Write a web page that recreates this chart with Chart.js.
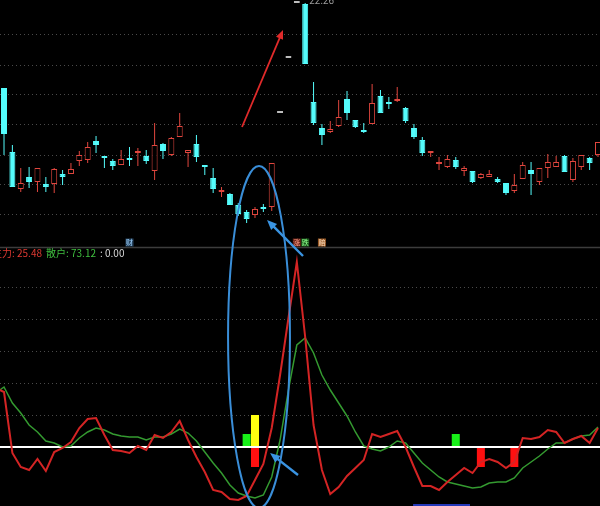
<!DOCTYPE html>
<html>
<head>
<meta charset="utf-8">
<script src="https://cdn.jsdelivr.net/npm/chart.js@4.4.1/dist/chart.umd.min.js"></script>
<style>
  html, body { margin: 0; padding: 0; background: #000; }
  canvas { display: block; }
</style>
</head>
<body>
<canvas id="kline" width="600" height="506"></canvas>
<script>
// daily candles, one per slot (slot 0 = first visible day)
const openPrices = [
  20.56, 19.28, 18.54, 18.78, 18.68, 18.64, 18.64, 18.84, 18.84, 19.10,
  19.12, 19.50, 19.18, 19.10, 19.02, 19.14, 19.26, 19.20, 18.90, 19.44,
  19.22, 19.58, 19.26, 19.44, 19.00, 18.76, 18.48, 18.44, 18.22, 18.08,
  18.02, 18.18, 18.18, 20.06, 21.16, 22.26, 22.24, 20.28, 19.76, 19.68,
  19.80, 20.34, 19.92, 19.70, 19.84, 20.40, 20.26, 20.30, 20.16, 19.76,
  19.52, 19.26, 19.04, 18.98, 19.12, 18.90, 18.90, 18.76, 18.78, 18.74,
  18.66, 18.50, 18.74, 18.92, 18.68, 18.96, 18.98, 19.20, 18.72, 18.98,
  19.16, 19.22
];
const highPrices = [
  20.56, 19.42, 18.96, 18.98, 18.96, 18.78, 18.96, 18.92, 19.06, 19.30,
  19.48, 19.60, 19.18, 19.14, 19.32, 19.38, 19.36, 19.32, 19.86, 19.46,
  19.58, 20.06, 19.32, 19.62, 19.00, 18.96, 18.58, 18.46, 18.26, 18.12,
  18.18, 18.24, 19.06, 20.06, 21.16, 22.26, 22.26, 20.68, 19.84, 19.90,
  20.32, 20.50, 19.92, 19.86, 20.64, 20.52, 20.38, 20.58, 20.18, 19.84,
  19.58, 19.30, 19.18, 19.22, 19.18, 19.00, 18.90, 18.86, 18.92, 18.78,
  18.66, 18.84, 19.08, 19.08, 18.96, 19.24, 19.20, 19.22, 19.16, 19.22,
  19.18, 19.48
];
const lowPrices = [
  19.22, 18.58, 18.48, 18.56, 18.48, 18.48, 18.46, 18.62, 18.84, 19.00,
  19.06, 19.26, 18.96, 18.92, 19.02, 19.00, 19.00, 19.04, 18.72, 19.14,
  19.20, 19.58, 18.98, 19.08, 18.82, 18.46, 18.38, 18.22, 18.00, 17.86,
  17.96, 18.08, 18.10, 20.06, 21.16, 22.26, 21.04, 19.82, 19.42, 19.66,
  19.78, 19.92, 19.76, 19.66, 19.84, 20.06, 20.14, 20.28, 19.86, 19.54,
  19.20, 19.18, 18.92, 18.96, 18.94, 18.80, 18.66, 18.74, 18.78, 18.66,
  18.42, 18.46, 18.74, 18.42, 18.62, 18.76, 18.98, 18.88, 18.68, 18.92,
  18.92, 19.18
];
const closePrices = [
  19.64, 18.58, 18.66, 18.68, 18.96, 18.58, 18.94, 18.78, 18.94, 19.22,
  19.38, 19.42, 19.16, 19.00, 19.14, 19.12, 19.28, 19.10, 19.42, 19.30,
  19.56, 19.80, 19.32, 19.18, 18.98, 18.54, 18.52, 18.22, 18.04, 17.94,
  18.14, 18.14, 19.06, 20.06, 21.16, 22.26, 21.04, 19.86, 19.62, 19.74,
  19.98, 20.06, 19.78, 19.68, 20.26, 20.06, 20.24, 20.34, 19.90, 19.58,
  19.26, 19.30, 19.08, 19.14, 18.98, 18.96, 18.68, 18.84, 18.84, 18.68,
  18.46, 18.62, 19.02, 18.84, 18.96, 19.08, 19.08, 18.88, 19.10, 19.22,
  19.06, 19.48
];

// indicator lines, first value is the day before slot 0
const mainForce = [
  59, 55, -6, -20, -23, -12, -24, -5, -1, 5,
  19, 28, 29, 12, -3, -4, -6, 1, -3, 12,
  9, 15, 26, 7, -10, -25, -43, -45, -52, -53,
  -49, -33, -17, 19, 72, 129, 185, 110, 22, -23,
  -47, -40, -29, -21, -13, 13, 10, 13, 16, 0,
  -20, -39, -39, -43, -35, -28, -21, -26, -15, -12,
  -15, -21, -15, 9, 8, 10, 17, 15, 4, 8,
  11, 4, 19
];
const retail = [
  54, 60, 44, 34, 22, 15, 6, 4, 0, 1,
  9, 15, 19, 17, 13, 11, 10, 10, 7, 10,
  10, 13, 18, 14, 6, -5, -16, -26, -38, -46,
  -49, -51, -48, -30, 7, 57, 102, 109, 94, 72,
  57, 44, 31, 15, 1, -2, -4, 0, 6, 4,
  -6, -16, -23, -30, -35, -37, -39, -41, -40, -36,
  -35, -35, -31, -21, -15, -9, -2, 4, 4, 8,
  11, 12, 20
];

// signal bars
const greenBarSlots = [29, 54];
const greenBarValues = [13, 13];
const yellowBarSlots = [30];
const yellowBarValues = [32];
const redBarSlots = [30, 57, 61];
const redBarValues = [-20, -20, -20];

// dotted grid levels
const priceGrid = [21.62, 21.02, 20.42, 19.82, 19.22, 18.62, 18.02];
const indicatorGrid = [32, 64, 96, 128, 160];

// small info tags above the divider
const infoSlots = [15, 35, 36, 38];
const infoTexts = ['财', '涨', '跌', '赔'];
const infoColors = [['#27445f', '#9fd3ff'], ['#6a2418', '#ff9c86'], ['#1e5a1e', '#8cff8c'], ['#9a5a26', '#ffe2c4']];

const UP = '#e0463e';
const DOWN = '#54fcfc';
const FLAT = '#bdbdbd';
const FONT = '"Noto Sans CJK SC", "Noto Sans", sans-serif';

function candleColor(i) {
  if (i === undefined) return DOWN;
  if (closePrices[i] > openPrices[i]) return UP;
  if (closePrices[i] < openPrices[i]) return DOWN;
  return FLAT;
}

const slots = openPrices.map((_, i) => i);
const wickData = slots.map(i => ({ x: i, y: [lowPrices[i], highPrices[i]] }));
const bodyData = slots.map(i => ({ x: i, y: [openPrices[i], closePrices[i]] }));
const mainData = mainForce.map((v, i) => ({ x: i - 1, y: v }));
const retailData = retail.map((v, i) => ({ x: i - 1, y: v }));
const toBars = (xs, vs) => xs.map((s, i) => ({ x: s, y: vs[i] }));

function arrow(ctx, x1, y1, x2, y2, color, width, head) {
  const a = Math.atan2(y2 - y1, x2 - x1);
  const c = Math.cos(a), s = Math.sin(a);
  ctx.strokeStyle = color;
  ctx.fillStyle = color;
  ctx.lineWidth = width;
  ctx.beginPath();
  ctx.moveTo(x1, y1);
  ctx.lineTo(x2 - c * head * 0.7, y2 - s * head * 0.7);
  ctx.stroke();
  ctx.beginPath();
  ctx.moveTo(x2, y2);
  ctx.lineTo(x2 - head * c + head * 0.42 * s, y2 - head * s - head * 0.42 * c);
  ctx.lineTo(x2 - head * c - head * 0.42 * s, y2 - head * s + head * 0.42 * c);
  ctx.closePath();
  ctx.fill();
}

const overlay = {
  id: 'overlay',
  afterDraw(chart) {
    const { ctx } = chart;
    const xs = chart.scales.x, ys = chart.scales.y, ys2 = chart.scales.y2;
    ctx.save();

    // panel divider
    const sepY = Math.round(ys2.top) + 0.5;
    ctx.strokeStyle = '#3c3c3c';
    ctx.lineWidth = 1.5;
    ctx.beginPath();
    ctx.moveTo(0, sepY);
    ctx.lineTo(chart.width, sepY);
    ctx.stroke();

    // highest price label (partly above the top edge, like the terminal)
    ctx.font = '10px ' + FONT;
    ctx.textBaseline = 'middle';
    ctx.fillStyle = '#9a9a9a';
    ctx.fillText(highPrices[36].toFixed(2), xs.getPixelForValue(36) + 4, ys.getPixelForValue(highPrices[36]) - 3);

    // info tags
    ctx.font = '7px ' + FONT;
    ctx.textAlign = 'center';
    infoSlots.forEach((s, i) => {
      const cx = xs.getPixelForValue(s);
      ctx.fillStyle = infoColors[i][0];
      ctx.fillRect(cx - 4, sepY - 9, 8, 8);
      ctx.fillStyle = infoColors[i][1];
      ctx.fillText(infoTexts[i], cx, sepY - 5);
    });

    // indicator header
    ctx.textAlign = 'left';
    ctx.font = '10px ' + FONT;
    let tx = -8;
    const ty = sepY + 6;
    [['主力: ' + '25.48', '#e03a32'], ['散户: ' + '73.12', '#3fbf3f'], [': 0.00', '#d8d8d8']].forEach(([t, c]) => {
      ctx.fillStyle = c;
      ctx.fillText(t, tx, ty);
      tx += ctx.measureText(t).width + 4;
    });

    // hand drawn marks
    arrow(ctx, xs.getPixelForValue(28.45), ys.getPixelForValue(19.78),
      xs.getPixelForValue(33.35), ys.getPixelForValue(21.72), '#e02a2a', 1.8, 9);
    arrow(ctx, xs.getPixelForValue(35.74), ys2.getPixelForValue(191),
      xs.getPixelForValue(31.44), ys.getPixelForValue(17.92), '#3a94e2', 2.4, 10);
    arrow(ctx, xs.getPixelForValue(35.14), ys2.getPixelForValue(-28),
      xs.getPixelForValue(31.8), ys2.getPixelForValue(-6), '#3a94e2', 2.4, 10);

    const ex1 = xs.getPixelForValue(26.78), ex2 = xs.getPixelForValue(34.18);
    const ey1 = ys.getPixelForValue(19.0), ey2 = ys2.getPixelForValue(-61);
    ctx.strokeStyle = '#3a8ed8';
    ctx.lineWidth = 2;
    ctx.beginPath();
    ctx.ellipse((ex1 + ex2) / 2, (ey1 + ey2) / 2, (ex2 - ex1) / 2, (ey2 - ey1) / 2, 0, 0, Math.PI * 2);
    ctx.stroke();

    // scroll thumb at the bottom edge
    ctx.fillStyle = '#2438b8';
    ctx.fillRect(xs.getPixelForValue(48.9), chart.height - 2, xs.getPixelForValue(55.7) - xs.getPixelForValue(48.9), 2);

    ctx.restore();
  }
};

const dotted = (ticks) => ({
  display: true,
  ticks: { display: false },
  grid: { color: '#4a4a4a', lineWidth: 1, drawTicks: false, offset: false },
  border: { display: false, dash: [1, 3] },
  afterBuildTicks: (scale) => { scale.ticks = ticks.map(v => ({ value: v })); }
});

new Chart(document.getElementById('kline'), {
  type: 'bar',
  data: {
    datasets: [
      {
        type: 'bar', label: '影线', data: wickData, yAxisID: 'y',
        grouped: false, barThickness: 1, inflateAmount: 0, borderWidth: 0,
        backgroundColor: ctx => candleColor(ctx.dataIndex), order: 5
      },
      {
        type: 'bar', label: 'K线', data: bodyData, yAxisID: 'y',
        grouped: false, barThickness: 6, minBarLength: 2, inflateAmount: 0,
        borderWidth: 1, borderSkipped: false,
        borderColor: ctx => candleColor(ctx.dataIndex),
        backgroundColor: ctx => candleColor(ctx.dataIndex) === UP ? '#000' : candleColor(ctx.dataIndex),
        order: 4
      },
      {
        type: 'bar', label: '买入', data: toBars(greenBarSlots, greenBarValues), yAxisID: 'y2',
        grouped: false, barThickness: 8, inflateAmount: 0, backgroundColor: '#18f018', order: 7
      },
      {
        type: 'bar', label: '加仓', data: toBars(yellowBarSlots, yellowBarValues), yAxisID: 'y2',
        grouped: false, barThickness: 8, inflateAmount: 0, backgroundColor: '#ffff10', order: 7
      },
      {
        type: 'bar', label: '卖出', data: toBars(redBarSlots, redBarValues), yAxisID: 'y2',
        grouped: false, barThickness: 8, inflateAmount: 0, backgroundColor: '#ff1010', order: 7
      },
      {
        type: 'line', label: '零轴', data: [{ x: -2, y: 0 }, { x: 73, y: 0 }], yAxisID: 'y2',
        borderColor: '#ffffff', borderWidth: 2, pointRadius: 0, order: 6
      },
      {
        type: 'line', label: '散户', data: retailData, yAxisID: 'y2',
        borderColor: '#349a30', borderWidth: 1.5, pointRadius: 0, tension: 0, order: 3
      },
      {
        type: 'line', label: '主力', data: mainData, yAxisID: 'y2',
        borderColor: '#d42424', borderWidth: 2, pointRadius: 0, tension: 0, order: 2
      }
    ]
  },
  options: {
    responsive: false,
    animation: false,
    devicePixelRatio: 1,
    layout: { padding: 0, autoPadding: false },
    plugins: { legend: { display: false }, tooltip: { enabled: false } },
    scales: {
      x: { type: 'linear', min: -0.48, max: 71.24, offset: false, display: false, grid: { offset: false } },
      y: Object.assign(dotted(priceGrid), {
        type: 'linear', position: 'left', stack: 'panels', stackWeight: 247, weight: 2,
        min: 17.38, max: 22.32
      }),
      y2: Object.assign(dotted(indicatorGrid), {
        type: 'linear', position: 'left', stack: 'panels', stackWeight: 259, weight: 1,
        min: -59, max: 200
      })
    }
  },
  plugins: [overlay]
});
</script>
</body>
</html>
